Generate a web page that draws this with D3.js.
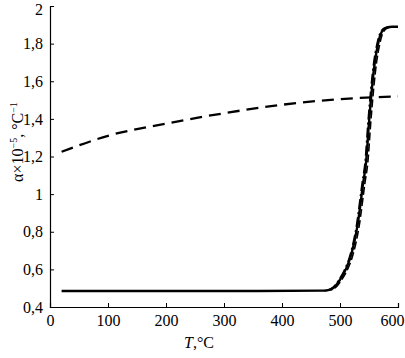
<!DOCTYPE html>
<html>
<head>
<meta charset="utf-8">
<script src="https://cdn.jsdelivr.net/npm/d3@7"></script>
<style>
  body { margin: 0; background: #fff; }
  text { font-family: "Liberation Serif", "Times New Roman", serif; }
</style>
</head>
<body>
<div id="chart"></div>
<script>
// dashed reference curve
const dashT = [20, 100, 200, 300, 400, 500, 600];
const dashA = [1.225, 1.31, 1.375, 1.43, 1.475, 1.505, 1.52];

// steep curves (temperature, alpha)
const stepT = [20, 300, 470, 480, 490, 500, 510, 520, 530, 540, 545, 550, 555, 560, 565, 570, 575, 580, 590, 600];
const stepA = [0.485, 0.485, 0.487, 0.49, 0.505, 0.545, 0.6, 0.685, 0.83, 1.06, 1.17, 1.38, 1.56, 1.7, 1.79, 1.85, 1.875, 1.885, 1.89, 1.89];
const stepShift = [0, 3, -2]; // small offsets between the overlapping runs

const xTicks = [0, 100, 200, 300, 400, 500, 600];
const yTicks = [0.4, 0.6, 0.8, 1, 1.2, 1.4, 1.6, 1.8, 2];

const width = 405, height = 358;
const svg = d3.select("#chart").append("svg")
  .attr("width", width).attr("height", height);

const x = d3.scaleLinear().domain([0, 600]).range([50, 398]);
const y = d3.scaleLinear().domain([0.4, 2]).range([307, 6]);

// axes
const fmt = d => String(d).replace(".", ",");
const gx = svg.append("g").attr("transform", `translate(0,${y(0.4)})`)
  .call(d3.axisBottom(x).tickValues(xTicks).tickSize(-4).tickPadding(8).tickFormat(d => d));
const gy = svg.append("g").attr("transform", `translate(${x(0)},0)`)
  .call(d3.axisLeft(y).tickValues(yTicks).tickSize(-4).tickPadding(7).tickFormat(fmt));
[gx, gy].forEach(g => {
  g.select(".domain").attr("stroke", "#000").attr("stroke-width", 1.2);
  g.selectAll(".tick line").attr("stroke", "#000");
  g.selectAll("text").attr("fill", "#000").style("font-size", "16px")
    .style("font-family", "'Liberation Serif', serif");
});
// edge labels kept inside the picture
gx.selectAll(".tick text").filter(d => d === 600).attr("text-anchor", "end").attr("dx", 6);
gy.selectAll(".tick text").filter(d => d === 2).attr("dy", "0.5em");

const line = d3.line().x(d => x(d[0])).y(d => y(d[1])).curve(d3.curveMonotoneX);

// dashed curve
svg.append("path")
  .attr("d", line(dashT.map((t, i) => [t, dashA[i]])))
  .attr("fill", "none").attr("stroke", "#000").attr("stroke-width", 2.3)
  .attr("stroke-dasharray", "12,7");

// overlapping steep curves
const styles = [
  { dash: null, w: 2.4 },
  { dash: "8,3", w: 1.6 },
  { dash: "10,3,2,3", w: 1.4 }
];
stepShift.forEach((s, k) => {
  const pts = stepT.map((t, i) => [Math.min(600, t + s), stepA[i]])
    .filter(d => k === 0 || d[0] > 470);
  svg.append("path")
    .attr("d", line(pts))
    .attr("fill", "none").attr("stroke", "#000").attr("stroke-width", styles[k].w)
    .attr("stroke-dasharray", styles[k].dash);
});

// axis titles
const xt = svg.append("text")
  .attr("x", 199).attr("y", 348).attr("text-anchor", "middle")
  .style("font-size", "16px");
xt.append("tspan").style("font-style", "italic").text("T");
xt.append("tspan").text(",°C");

const yt = svg.append("text")
  .attr("transform", "translate(23,142) rotate(-90)")
  .attr("text-anchor", "middle").style("font-size", "16px");
yt.append("tspan").text("α×10");
yt.append("tspan").attr("dy", -6).style("font-size", "10px").text("−5");
yt.append("tspan").attr("dy", 6).text(", °C");
yt.append("tspan").attr("dy", -6).style("font-size", "10px").text("−1");
</script>
</body>
</html>
